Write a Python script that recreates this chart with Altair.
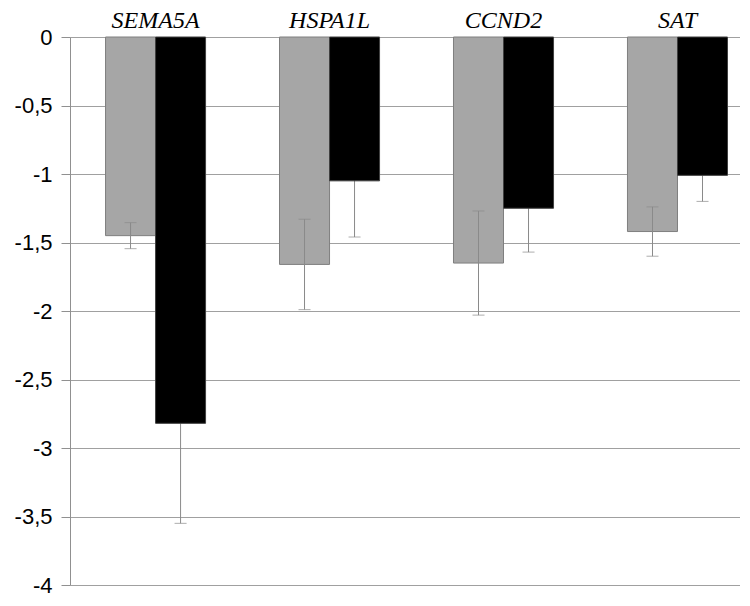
import altair as alt
import pandas as pd

genes = ["SEMA5A", "HSPA1L", "CCND2", "SAT"]
series = ["A", "B"]
grey_values = [-1.45, -1.66, -1.65, -1.42]
grey_errors = [0.095, 0.33, 0.38, 0.18]
black_values = [-2.82, -1.05, -1.25, -1.01]
black_errors = [0.73, 0.41, 0.32, 0.19]
y_ticks = [0, -0.5, -1, -1.5, -2, -2.5, -3, -3.5, -4]

rows = []
for g, gv, ge, bv, be in zip(genes, grey_values, grey_errors, black_values, black_errors):
    rows.append({"gene": g, "series": "A", "value": gv, "lo": gv - ge, "hi": gv + ge})
    rows.append({"gene": g, "series": "B", "value": bv, "lo": bv - be, "hi": bv + be})
df = pd.DataFrame(rows)

x_enc = alt.X(
    "gene:N",
    sort=genes,
    scale=alt.Scale(domain=genes, paddingInner=0.425, paddingOuter=0.138, align=0.74, round=False),
    axis=alt.Axis(
        orient="top", title=None, ticks=False, domain=False, labelAngle=0,
        labelFont="Liberation Serif", labelFontStyle="italic", labelFontSize=24,
        labelColor="black", labelPadding=5,
    ),
)
xo_enc = alt.XOffset("series:N", sort=series,
                     scale=alt.Scale(domain=series, paddingInner=0, paddingOuter=0, round=False))
y_scale = alt.Scale(domain=[-4, 0], nice=False, zero=True)
y_axis = alt.Axis(
    title=None, values=y_ticks, grid=True, gridColor="#a0a0a0", gridWidth=1,
    domainColor="#909090", tickColor="#909090", tickSize=9,
    labelFont="Liberation Sans", labelFontSize=22, labelColor="black", labelPadding=9,
    labelExpr="replace(toString(datum.value), '.', ',')",
)

base = alt.Chart(df)

grey_bars = base.transform_filter(alt.datum.series == "A").mark_bar(
    color="#a6a6a6", stroke="#7f7f7f", strokeWidth=1
).encode(x=x_enc, xOffset=xo_enc, y=alt.Y("value:Q", scale=y_scale, axis=y_axis))

err_rules = base.mark_rule(color="#8a8a8a", strokeWidth=1).encode(
    x=x_enc, xOffset=xo_enc, y=alt.Y("lo:Q", scale=y_scale), y2="hi:Q"
)
err_lo = base.mark_tick(color="#8a8a8a", size=12, thickness=1).encode(
    x=x_enc, xOffset=xo_enc, y=alt.Y("lo:Q", scale=y_scale)
)
err_hi = base.mark_tick(color="#8a8a8a", size=12, thickness=1).encode(
    x=x_enc, xOffset=xo_enc, y=alt.Y("hi:Q", scale=y_scale)
)

black_bars = base.transform_filter(alt.datum.series == "B").mark_bar(
    color="black", stroke="#404040", strokeWidth=1
).encode(x=x_enc, xOffset=xo_enc, y=alt.Y("value:Q", scale=y_scale))

chart = alt.layer(grey_bars, err_rules, err_lo, err_hi, black_bars).properties(
    width=670, height=548,
    autosize=alt.AutoSizeParams(type="none"),
    padding={"left": 62, "top": 29, "right": 0, "bottom": 13},
).configure_view(stroke=None).configure(background="white")

chart.save("out.html", embed_options={"renderer": "svg", "actions": False})
